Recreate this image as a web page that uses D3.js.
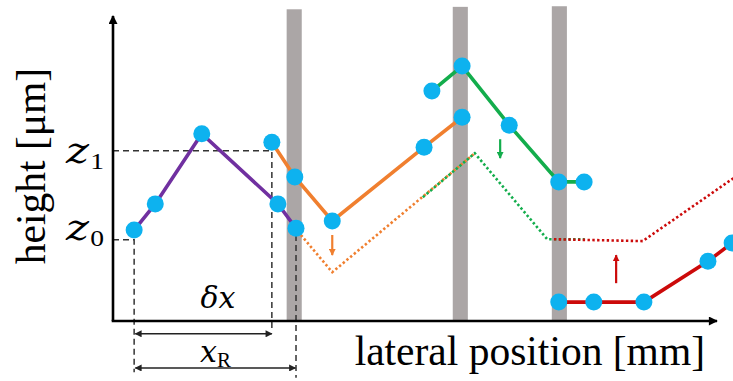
<!DOCTYPE html>
<html><head><meta charset="utf-8">
<script src="https://cdn.jsdelivr.net/npm/d3@7"></script>
<style>html,body{margin:0;padding:0;background:#fff;overflow:hidden}</style>
</head><body>
<svg id="c" width="733" height="381"></svg>
<script>
// data in chart units (x: lateral position, y: height)
const purple = [[0.35,1.49],[0.70,1.92],[1.47,3.07],[2.73,1.92],[3.03,1.52]];
const orangeSolid = [[2.63,2.93],[3.01,2.36],[3.63,1.64],[5.15,2.85],[5.78,3.34]];
const orangeDotted = [[3.06,1.47],[3.63,0.80],[5.99,2.75]];
const greenSolid = [[5.28,3.77],[5.78,4.18],[6.56,3.21],[7.38,2.28],[7.80,2.28]];
const greenDotted = [[5.13,2.03],[5.99,2.75],[7.19,1.34],[7.81,1.34]];
const redSolid = [[7.38,0.31],[7.96,0.31],[8.79,0.31],[9.85,0.98],[10.25,1.28]];
const redDotted = [[7.30,1.34],[8.77,1.31],[10.30,2.36]];
const barCenters = [3.00, 5.75, 7.39];
const barTops = [5.11, 5.15, 5.16];
const shiftArrows = [
  {x:3.63, y0:1.41, y1:1.08, c:"orange"},
  {x:6.41, y0:2.98, y1:2.67, c:"green"},
  {x:8.33, y0:0.62, y1:1.08, c:"red"}
];
const z0 = 1.33, z1 = 2.79, x0 = 0.35, xd = 2.63, xR = 3.03;
const labels = {y:"height [μm]", x:"lateral position [mm]"};

const colors = {purple:"#7030a0", orange:"#f07f2f", green:"#13ad4c", red:"#cc0a0a", pt:"#0db2ef", bar:"#aba6a6"};

const svg = d3.select("#c");
const x = d3.scaleLinear().domain([0,10]).range([113,717]);
const y = d3.scaleLinear().domain([0,5]).range([321,16]);
const line = d3.line().x(d=>x(d[0])).y(d=>y(d[1]));

// markers
const defs = svg.append("defs");
function marker(id, col, w, h){
  defs.append("marker").attr("id",id).attr("viewBox","0 0 10 10").attr("refX",9).attr("refY",5)
    .attr("markerWidth",w).attr("markerHeight",h).attr("markerUnits","userSpaceOnUse").attr("orient","auto-start-reverse")
    .append("path").attr("d","M0,0L10,5L0,10z").attr("fill",col);
}
marker("axArrow","#000",12,9);
marker("dimArrow","#222",8,7);
marker("a_orange",colors.orange,7,7);
marker("a_green",colors.green,7,7);
marker("a_red",colors.red,7,7);

// gray bars
const bw = 0.25;
svg.selectAll("rect.bar").data(barCenters).enter().append("rect")
  .attr("x",d=>x(d-bw/2)).attr("width",x(bw)-x(0))
  .attr("y",(d,i)=>y(barTops[i])).attr("height",(d,i)=>y(0)-y(barTops[i]))
  .attr("fill",colors.bar);

// dashed guide lines
const dashG = svg.append("g").attr("stroke","#333").attr("stroke-width",1.5).attr("stroke-dasharray","6,4").attr("fill","none");
dashG.append("path").attr("d",line([[0,z1],[xd,z1],[xd,-0.13]]));
dashG.append("path").attr("d",line([[0,z0],[x0,z0],[x0,-0.84]]));
dashG.append("path").attr("d",line([[xR,1.41],[xR,-0.93]]));

// dimension arrows
const dimG = svg.append("g").attr("stroke","#222").attr("stroke-width",1.4);
dimG.append("path").attr("d",line([[x0+0.02,-0.21],[xd,-0.21]])).attr("marker-start","url(#dimArrow)").attr("marker-end","url(#dimArrow)");
dimG.append("path").attr("d",line([[x0+0.02,-0.77],[xR-0.01,-0.77]])).attr("marker-start","url(#dimArrow)").attr("marker-end","url(#dimArrow)");

// dotted lines
function dotted(data,col){
  svg.append("path").attr("d",line(data)).attr("fill","none").attr("stroke",col)
    .attr("stroke-width",2.6).attr("stroke-dasharray","2.4,2.4");
}
dotted(orangeDotted, colors.orange);
dotted(greenDotted, colors.green);
dotted(redDotted, colors.red);

// solid lines
function solid(data,col){
  svg.append("path").attr("d",line(data)).attr("fill","none").attr("stroke",col).attr("stroke-width",3.6);
}
solid(purple, colors.purple);
solid(orangeSolid, colors.orange);
solid(greenSolid, colors.green);
solid(redSolid, colors.red);

// points
const allPts = [].concat(purple, orangeSolid, greenSolid, redSolid);
svg.selectAll("circle.pt").data(allPts).enter().append("circle")
  .attr("cx",d=>x(d[0])).attr("cy",d=>y(d[1])).attr("r",8.5).attr("fill",colors.pt);

// shift arrows
shiftArrows.forEach(a=>{
  svg.append("path").attr("d",line([[a.x,a.y0],[a.x,a.y1]])).attr("stroke",colors[a.c]).attr("stroke-width",2.2)
    .attr("marker-end",`url(#a_${a.c})`);
});

// axes
const axG = svg.append("g").attr("stroke","#000").attr("stroke-width",2.6).attr("fill","none");
axG.append("path").attr("d",`M${x(0)},${y(0)}V${y(5)}`).attr("marker-end","url(#axArrow)");
axG.append("path").attr("d",`M${x(0)-1.3},${y(0)}H${x(10)}`).attr("marker-end","url(#axArrow)");

// text
const serif = "'Liberation Serif','Times New Roman',serif";
svg.append("text").attr("x",705).attr("y",365).attr("text-anchor","end")
  .attr("font-family",serif).attr("font-size",41.5).text(labels.x);
svg.append("text").attr("transform","translate(45,166) rotate(-90)").attr("text-anchor","middle")
  .attr("font-family",serif).attr("font-size",41.5).text(labels.y);

const math = "'DejaVu Serif',serif";
function zlab(base, sub, yb){
  const t = svg.append("text").attr("font-family",math).attr("font-style","italic").attr("font-size",38)
    .attr("transform",`translate(66,${yb}) scale(1.15,1)`);
  t.append("tspan").attr("x",0).attr("y",0).text(base);
  t.append("tspan").attr("font-family",serif).attr("font-style","normal").attr("font-size",24).attr("dx",1).attr("dy",6).text(sub);
}
zlab("z","1",y(z1)+12);
zlab("z","0",y(z0)+0);

svg.append("text").attr("x",218).attr("y",308).attr("text-anchor","middle")
  .attr("font-family",math).attr("font-style","italic").attr("font-size",30).text("δx");
const xr = svg.append("text").attr("x",200).attr("y",362).attr("font-family",math).attr("font-style","italic").attr("font-size",30);
xr.append("tspan").text("x");
xr.append("tspan").attr("font-family",serif).attr("font-style","normal").attr("font-size",21).attr("dy",5).text("R");
</script>
</body></html>
